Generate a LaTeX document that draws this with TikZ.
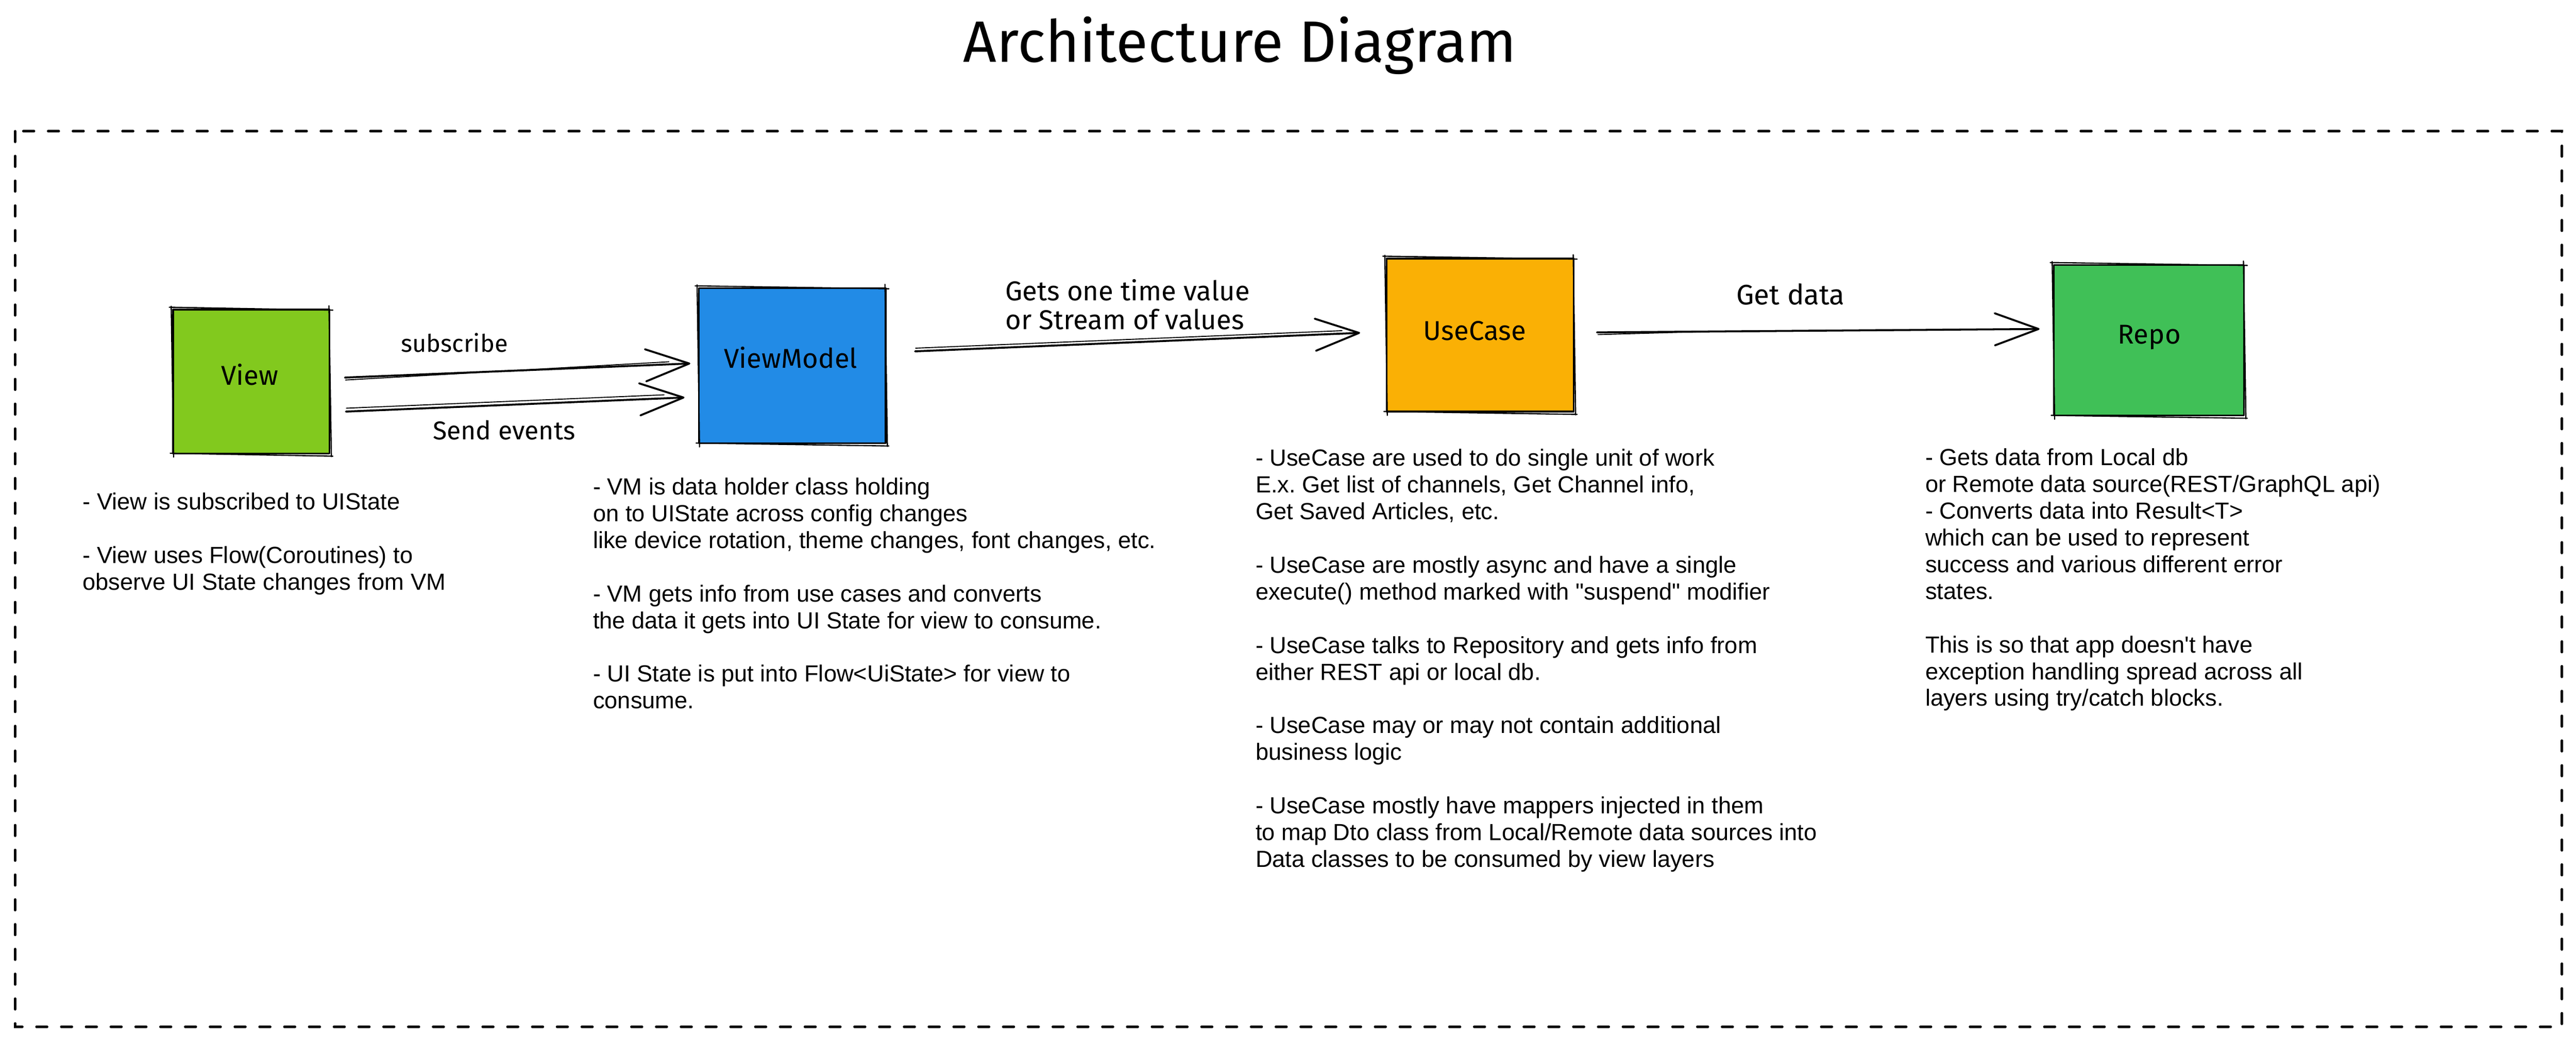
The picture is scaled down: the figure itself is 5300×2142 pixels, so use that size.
\documentclass[tikz,border=0pt]{standalone}
\usepackage{fontspec}
\setmainfont{Liberation Sans}[Ligatures=TeXOff]
\newfontfamily\handfont{Fira Sans}
\usetikzlibrary{arrows.meta,calc}
\definecolor{viewgreen}{HTML}{82C91E}
\definecolor{vmblue}{HTML}{228BE6}
\definecolor{ucorange}{HTML}{FAB005}
\definecolor{repogreen}{HTML}{40C057}
\newcommand\sketchbox[1]{%
  \draw[sk] ($(#1.north west)+(-6,-3)$) -- ($(#1.north east)+(5,3)$);
  \draw[sk] ($(#1.north east)+(-3,-6)$) -- ($(#1.south east)+(2,5)$);
  \draw[sk] ($(#1.south east)+(5,4)$) -- ($(#1.south west)+(-4,-2)$);
  \draw[sk] ($(#1.south west)+(3,6)$) -- ($(#1.north west)+(-2,-5)$);
}
\frenchspacing
\begin{document}
\begin{tikzpicture}[x=1pt,y=-1pt,
  box/.style={draw=black,line width=3.5pt,line join=round,inner sep=0pt},
  sk/.style={draw=black,line width=2.5pt,line cap=round},
  boxlabel/.style={anchor=base,inner sep=0pt,font=\handfont\fontsize{56}{64}\selectfont},
  arrlabel/.style={inner sep=0pt,font=\handfont\fontsize{52}{58}\selectfont},
  body/.style={anchor=north west,inner sep=0pt,align=left,font=\frenchspacing\fontsize{48}{55}\selectfont},
  conn/.style={draw=black,line width=4pt,line cap=round,
    -{Straight Barb[length=90pt,width=66pt,line width=4pt,round]}},
  conn2/.style={draw=black,line width=2pt,line cap=round},
  frame/.style={draw=black,line width=5pt,line cap=round,dash pattern=on 22pt off 29pt}
]
\useasboundingbox (0,0) rectangle (5300,2142);
\fill[white] (0,0) rectangle (5300,2142);

% title
\node[anchor=base,inner sep=0pt,font=\handfont\fontsize{120}{130}\selectfont] (title) at (2551,128) {Architecture Diagram};

% frame
\draw[frame] (31,270) rectangle (5271,2113);

% boxes
\node[box,fill=viewgreen,minimum width=322pt,minimum height=296pt] (view) at (517,785) {};
\node[box,fill=vmblue,minimum width=384pt,minimum height=319pt] (vm) at (1630,752.5) {};
\node[box,fill=ucorange,minimum width=385pt,minimum height=315pt] (uc) at (3045.5,689.5) {};
\node[box,fill=repogreen,minimum width=391pt,minimum height=310pt] (repo) at (4421.5,700) {};
\sketchbox{view}
\sketchbox{vm}
\sketchbox{uc}
\sketchbox{repo}

\node[boxlabel] (viewlbl) at (514,792) {View};
\node[boxlabel] (vmlbl) at (1627,757) {ViewModel};
\node[boxlabel] (uclbl) at (3034,700) {UseCase};
\node[boxlabel] (repolbl) at (4422,708) {Repo};

% connectors
\draw[conn] ($(view.east)+(30,-8)$) -- ($(vm.west)+(-16,-4.5)$);
\draw[conn2] ($(view.east)+(31,-3)$) -- ($(vm.west)+(-60,-8)$);
\draw[conn] ($(view.east)+(32,62)$) -- ($(vm.west)+(-28,65.5)$);
\draw[conn2] ($(view.east)+(33,55)$) -- ($(vm.west)+(-70,60)$);
\draw[conn] ($(vm.east)+(59,-29.5)$) -- ($(uc.west)+(-53,-4.5)$);
\draw[conn2] ($(vm.east)+(60,-36)$) -- ($(uc.west)+(-90,-9)$);
\draw[conn] ($(uc.east)+(46,-5.5)$) -- ($(repo.west)+(-28,-23)$);
\draw[conn2] ($(uc.east)+(48,-1)$) -- ($(repo.west)+(-700,-18)$);

% connector labels
\node[arrlabel,anchor=base,font=\handfont\fontsize{50}{58}\selectfont] (lsub) at (935,725) {subscribe};
\node[arrlabel,anchor=base,font=\handfont\fontsize{53}{58}\selectfont] (lsend) at (1037,905) {Send events};
\node[arrlabel,anchor=north west,align=left,font=\handfont\fontsize{56}{59}\selectfont] (lgets) at (2068,575) {\rule{0pt}{38pt}Gets one time value\\or Stream of values};
\node[arrlabel,anchor=base,font=\handfont\fontsize{58}{64}\selectfont] (lget) at (3684,627) {Get data};

% descriptions
\node[body] (viewtxt) at (170,1011) {\rule{0pt}{38pt}- View is subscribed to UIState\\[55pt]
- View uses Flow(Coroutines) to\\
observe UI State changes from VM};

\node[body] (vmtxt) at (1220,980) {\rule{0pt}{38pt}- VM is data holder class holding\\
on to UIState across config changes\\
like device rotation, theme changes, font changes, etc.\\[55pt]
- VM gets info from use cases and converts\\
the data it gets into UI State for view to consume.\\[55pt]
- UI State is put into Flow<UiState> for view to\\
consume.};

\node[body] (uctxt) at (2583,921) {\rule{0pt}{38pt}- UseCase are used to do single unit of work\\
E.x. Get list of channels, Get Channel info,\\
Get Saved Articles, etc.\\[55pt]
- UseCase are mostly async and have a single\\
execute() method marked with "suspend" modifier\\[55pt]
- UseCase talks to Repository and gets info from\\
either REST api or local db.\\[55pt]
- UseCase may or may not contain additional\\
business logic\\[55pt]
- UseCase mostly have mappers injected in them\\
to map Dto class from Local/Remote data sources into\\
Data classes to be consumed by view layers};

\node[body] (repotxt) at (3961,920) {\rule{0pt}{38pt}- Gets data from Local db\\
or Remote data source(REST/GraphQL api)\\
- Converts data into Result<T>\\
which can be used to represent\\
success and various different error\\
states.\\[55pt]
This is so that app doesn't have\\
exception handling spread across all\\
layers using try/catch blocks.};
\end{tikzpicture}
\end{document}
